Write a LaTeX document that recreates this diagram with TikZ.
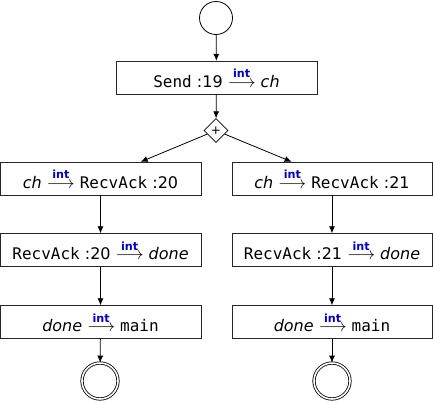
\documentclass[tikz,border=0pt]{standalone}
\usepackage{amsmath}
\usepackage{fontspec}
\setmainfont{DejaVu Sans}
\setmonofont{DejaVu Sans Mono}
\usetikzlibrary{shapes.geometric,arrows.meta}
\definecolor{intblue}{RGB}{0,0,190}
\newcommand{\lbl}{\text{\color{intblue}\bfseries int}}
\newcommand{\arr}{ $\stackrel{\lbl}{\longrightarrow}$ }
\begin{document}
\begin{tikzpicture}[x=1pt,y=-1pt,
  every node/.style={font=\fontsize{16}{20}\selectfont},
  stepbox/.style={draw=black!85,rectangle,minimum height=33pt,inner sep=0pt},
  flow/.style={-{Latex[length=7pt,width=6pt]},line width=0.8pt},
  startnode/.style={draw,circle,minimum size=33pt,inner sep=0pt,line width=0.8pt},
  endnode/.style={draw,circle,double,double distance=1.6pt,minimum size=36pt,inner sep=0pt,line width=0.8pt},
  forknode/.style={draw,diamond,minimum size=24pt,inner sep=0pt,line width=0.6pt,font=\fontsize{12}{12}\selectfont}]
\useasboundingbox (0,0) rectangle (433,402);
\node[startnode] (s) at (216,18) {};
\node[stepbox,minimum width=201pt] (send) at (216.5,77.5) {\texttt{Send} :19\arr\textit{ch}};
\node[forknode] (f) at (216,130.5) {+};
\node[stepbox,minimum width=201pt] (l1) at (100.5,178.5) {\textit{ch}\arr\texttt{RecvAck} :20};
\node[stepbox,minimum width=201pt] (l2) at (100.5,250) {\texttt{RecvAck} :20\arr\textit{done}};
\node[stepbox,minimum width=201pt] (l3) at (100.5,322) {\textit{done}\arr\texttt{main}};
\node[endnode] (le) at (100,381) {};
\node[stepbox,minimum width=200pt] (r1) at (332,178.5) {\textit{ch}\arr\texttt{RecvAck} :21};
\node[stepbox,minimum width=200pt] (r2) at (332,250) {\texttt{RecvAck} :21\arr\textit{done}};
\node[stepbox,minimum width=200pt] (r3) at (332,322) {\textit{done}\arr\texttt{main}};
\node[endnode] (re) at (332,381) {};
\draw[flow] (s) -- (send);
\draw[flow] (send) -- (f);
\draw[flow] (f) -- (l1);
\draw[flow] (f) -- (r1);
\draw[flow] (l1) -- (l2);
\draw[flow] (l2) -- (l3);
\draw[flow] (l3) -- (le);
\draw[flow] (r1) -- (r2);
\draw[flow] (r2) -- (r3);
\draw[flow] (r3) -- (re);
\end{tikzpicture}
\end{document}
